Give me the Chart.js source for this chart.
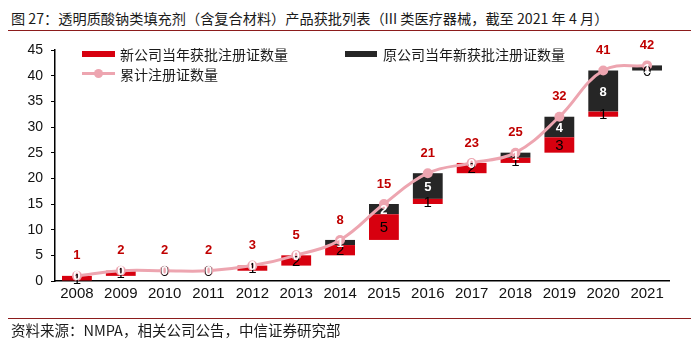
<!DOCTYPE html>
<html><head><meta charset="utf-8">
<script src="https://cdn.jsdelivr.net/npm/chart.js@4"></script>
<style>
body{margin:0;background:#fff;width:695px;height:347px;overflow:hidden;position:relative;font-family:"Noto Sans CJK SC",sans-serif;}
#c{position:absolute;left:0;top:0;}
.t{position:absolute;white-space:nowrap;color:#1a1a1a;}
.sw{position:absolute;}
</style></head><body>
<div class="t" style="left:11px;top:8px;font-size:14.2px;line-height:20px;">图 27：透明质酸钠类填充剂（含复合材料）产品获批列表（III 类医疗器械，截至 2021 年 4 月）</div>
<div style="position:absolute;left:8px;top:30px;width:683px;height:1px;background:#8c1c1c"></div>
<canvas id="c" width="695" height="347"></canvas>
<div class="sw" style="left:82px;top:51px;width:33px;height:6px;background:#D7000F"></div>
<div class="t" style="left:120px;top:44px;font-size:14px;line-height:20px;">新公司当年获批注册证数量</div>
<div class="sw" style="left:345px;top:51px;width:32px;height:6px;background:#262626"></div>
<div class="t" style="left:383px;top:44px;font-size:14px;line-height:20px;">原公司当年新获批注册证数量</div>
<div class="sw" style="left:82px;top:72px;width:33px;height:3px;background:#EDA5B0"></div>
<div class="sw" style="left:94px;top:69px;width:9px;height:9px;border-radius:50%;background:#EDA5B0"></div>
<div class="t" style="left:120px;top:64px;font-size:14px;line-height:20px;">累计注册证数量</div>
<div style="position:absolute;left:8px;top:318px;width:683px;height:1px;background:#8c1c1c"></div>
<div class="t" style="left:11px;top:321px;font-size:14.5px;line-height:18px;">资料来源：NMPA，相关公司公告，中信证券研究部</div>
<script>
const years = ['2008','2009','2010','2011','2012','2013','2014','2015','2016','2017','2018','2019','2020','2021'];
const newCo = [1,1,0,0,1,2,2,5,1,2,1,3,1,0];
const oldCo = [0,0,0,0,0,0,1,2,5,0,1,4,8,1];
const cumulative = [1,2,2,2,3,5,8,15,21,23,25,32,41,42];
const yTicks = [0,5,10,15,20,25,30,35,40,45];

const prevCum = cumulative.map((v,i)=> i>0 ? cumulative[i-1] : 0);
const redBars = newCo.map((v,i)=>[prevCum[i], prevCum[i]+v]);
const darkBars = oldCo.map((v,i)=>[prevCum[i]+newCo[i], prevCum[i]+newCo[i]+v]);

const labelPlugin = {
  id:'lbl',
  afterDatasetsDraw(chart){
    const ctx = chart.ctx, ys = chart.scales.y, xs = chart.scales.x;
    ctx.save();
    ctx.textAlign='center'; ctx.textBaseline='middle';
    years.forEach((yr,i)=>{
      const cx = xs.getPixelForValue(i);
      ctx.font='15px "Liberation Sans", Arial'; ctx.fillStyle='#000';
      ctx.fillText(String(newCo[i]), cx, ys.getPixelForValue(prevCum[i]+newCo[i]/2)+1);
      ctx.font='bold 13px "Liberation Sans", Arial'; ctx.fillStyle='#fff';
      ctx.fillText(String(oldCo[i]), cx, ys.getPixelForValue(prevCum[i]+newCo[i]+oldCo[i]/2)+1);
      ctx.font='bold 13px "Liberation Sans", Arial'; ctx.fillStyle='#C00000';
      ctx.fillText(String(cumulative[i]), cx, ys.getPixelForValue(cumulative[i])-20);
    });
    ctx.restore();
  }
};

new Chart(document.getElementById('c'), {
  data:{
    labels: years,
    datasets:[
      {type:'line', label:'累计注册证数量', data:cumulative, order:0,
       borderColor:'#EDA5B0', backgroundColor:'#EDA5B0', borderWidth:3, tension:0.4,
       pointRadius:5, pointBackgroundColor:'#EDA5B0', pointBorderWidth:0, pointHoverRadius:5},
      {type:'bar', label:'新公司当年获批注册证数量', data:redBars, order:1,
       backgroundColor:'#D7000F', borderWidth:0, barPercentage:0.68, categoryPercentage:1},
      {type:'bar', label:'原公司当年新获批注册证数量', data:darkBars, order:1,
       backgroundColor:'#262626', borderWidth:0, barPercentage:0.68, categoryPercentage:1}
    ]
  },
  options:{
    responsive:false, animation:false, devicePixelRatio:1,
    layout:{padding:{left:10,right:26,top:50,bottom:36}},
    plugins:{legend:{display:false}, tooltip:{enabled:false}},
    scales:{
      x:{stacked:true, offset:true,
         grid:{display:false, drawTicks:false},
         border:{display:true, color:'#000', width:1.5},
         ticks:{padding:4, color:'#111', font:{family:'"Liberation Sans", Arial', size:15}},
         afterFit(s){ s.height = 30; }},
      y:{min:0, max:45,
         afterBuildTicks(s){ s.ticks = yTicks.map(v=>({value:v})); },
         grid:{display:true, drawOnChartArea:false, drawTicks:true, tickLength:4, color:'#000', tickWidth:1},
         border:{display:true, color:'#000', width:1.5},
         ticks:{padding:8, color:'#111', font:{family:'"Liberation Sans", Arial', size:14}},
         afterFit(s){ s.width = 45; }}
    }
  },
  plugins:[labelPlugin]
});
</script>
</body></html>
